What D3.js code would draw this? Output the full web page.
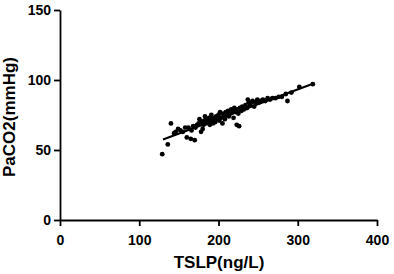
<!DOCTYPE html>
<html>
<head>
<meta charset="utf-8">
<script src="https://cdn.jsdelivr.net/npm/d3@7"></script>
<style>
  body { margin: 0; background: #fff; }
  svg { display: block; font-family: Arial, "Liberation Sans", sans-serif; }
  .axis text { font-size: 14px; font-weight: bold; fill: #000; }
  .axis path, .axis line { stroke: #000; stroke-width: 1.8; }
  .title { font-size: 17px; font-weight: bold; fill: #000; }
</style>
</head>
<body>
<svg width="394" height="274"></svg>
<script>
// TSLP (ng/L) vs PaCO2 (mmHg)
var tslp = [129, 136, 140, 144, 146, 149, 152, 155, 158, 160, 162, 165, 166, 168, 170,
    171, 173, 175, 176, 178, 179, 180, 181, 182, 183, 184, 185, 186, 188, 189,
    190, 191, 192, 193, 195, 196, 197, 198, 200, 201, 202, 203, 205, 205, 207,
    208, 209, 210, 212, 213, 215, 216, 218, 219, 220, 222, 223, 224, 225, 226,
    227, 229, 230, 232, 234, 236, 237, 238, 240, 242, 243, 245, 247, 249, 251,
    253, 256, 259, 262, 265, 268, 272, 276, 280, 285, 287, 292, 302, 319];
var paco2 = [47, 54, 69, 62, 63, 65, 64, 63, 66, 59, 66, 58, 64, 67, 57,
    66, 68, 69, 72, 63, 70, 65, 68, 71, 74, 69, 72, 70, 73, 68,
    71, 75, 72, 69, 73, 70, 74, 72, 75, 71, 77, 73, 69, 76, 74,
    72, 77, 75, 78, 74, 76, 79, 77, 73, 80, 77, 68, 79, 76, 67,
    80, 78, 81, 79, 82, 80, 86, 84, 82, 84, 85, 81, 84, 86, 84,
    85, 86, 85, 87, 86, 87, 87, 88, 88, 90, 85, 91, 95, 97];

// fitted line ends
var fitX = [130, 320];
var fitY = [57.5, 97.5];

var xTicks = [0, 100, 200, 300, 400];
var yTicks = [0, 50, 100, 150];

var svg = d3.select('svg');

var xScale = d3.scaleLinear().domain([0, 400]).range([60, 377]);
var yScale = d3.scaleLinear().domain([0, 150]).range([220, 10]);

// axes
svg.append('g')
    .attr('class', 'axis')
    .attr('transform', 'translate(0,' + yScale(0) + ')')
    .call(d3.axisBottom(xScale).tickValues(xTicks).tickSize(6).tickSizeOuter(0).tickPadding(9));

svg.append('g')
    .attr('class', 'axis')
    .attr('transform', 'translate(' + xScale(0) + ',0)')
    .call(d3.axisLeft(yScale).tickValues(yTicks).tickSize(6).tickSizeOuter(0).tickPadding(3));

// regression line
svg.append('line')
    .attr('x1', xScale(fitX[0]))
    .attr('y1', yScale(fitY[0]))
    .attr('x2', xScale(fitX[1]))
    .attr('y2', yScale(fitY[1]))
    .attr('stroke', '#000')
    .attr('stroke-width', 2);

// points
svg.append('g').selectAll('circle')
    .data(tslp)
    .enter()
    .append('circle')
    .attr('cx', function (d) { return xScale(d); })
    .attr('cy', function (d, i) { return yScale(paco2[i]); })
    .attr('r', 2.4)
    .attr('fill', '#000');

// axis titles
svg.append('text')
    .attr('class', 'title')
    .attr('text-anchor', 'middle')
    .attr('x', 219)
    .attr('y', 268)
    .text('TSLP(ng/L)');

svg.append('text')
    .attr('class', 'title')
    .attr('text-anchor', 'middle')
    .attr('transform', 'translate(15,117) rotate(-90)')
    .text('PaCO2(mmHg)');
</script>
</body>
</html>
